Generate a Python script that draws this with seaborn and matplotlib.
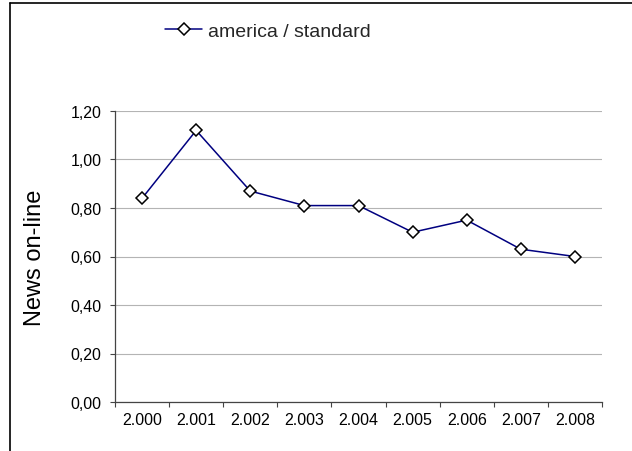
import numpy as np
import pandas as pd
import matplotlib
matplotlib.use("Agg")
import matplotlib.pyplot as plt
from matplotlib.lines import Line2D
from matplotlib.ticker import FixedLocator, FuncFormatter, MultipleLocator
import seaborn as sns

years = ["2.000", "2.001", "2.002", "2.003", "2.004", "2.005", "2.006", "2.007", "2.008"]
values = [0.84, 1.12, 0.87, 0.81, 0.81, 0.70, 0.75, 0.63, 0.60]
series_name = "america / standard"
y_label = "News on-line"

sns.set_theme(style="white")
plt.rcParams['font.family'] = ['Liberation Sans', 'DejaVu Sans']

df = pd.DataFrame({"pos": np.arange(len(years)), "value": values, "series": series_name})

fig = plt.figure(figsize=(6.32, 4.52), dpi=100)
fig.patch.set_facecolor("white")
ax = fig.add_axes([115/632, 1-403/452, (602-115)/632, (403-112)/452])

sns.lineplot(data=df, x="pos", y="value", ax=ax, color="#000080", linewidth=1.1,
             marker="D", markersize=6.5, markerfacecolor="white",
             markeredgecolor="black", markeredgewidth=1.1, label=series_name,
             zorder=3)

ax.set_xlim(-0.5, len(years) - 0.5)
ax.set_ylim(0, 1.2)
ax.yaxis.set_major_locator(MultipleLocator(0.2))
ax.yaxis.set_major_formatter(FuncFormatter(lambda v, p: f"{v:.2f}".replace(".", ",")))

# x: tick marks at category boundaries, labels at centers
ax.xaxis.set_major_locator(FixedLocator(np.arange(-0.5, len(years), 1.0)))
ax.set_xticklabels([])
ax.set_xticks(np.arange(len(years)), labels=years, minor=True)
ax.tick_params(axis="x", which="major", direction="out", length=3.6, width=0.8,
               color="#444444", bottom=True)
ax.tick_params(axis="x", which="minor", length=0, pad=7, labelsize=11.5, labelcolor="black")
ax.tick_params(axis="y", which="major", direction="out", length=3.6, width=0.8,
               color="#444444", left=True, pad=6, labelsize=11.5, labelcolor="black")

ax.grid(axis="y", color="#b4b4b4", linewidth=0.8, zorder=0)
ax.grid(axis="x", visible=False)
ax.set_axisbelow(True)
for s in ["top", "right"]:
    ax.spines[s].set_visible(False)
for s in ["left", "bottom"]:
    ax.spines[s].set_color("#444444")
    ax.spines[s].set_linewidth(0.9)

ax.set_xlabel("")
ax.set_ylabel(y_label, fontsize=17, color="black")
ax.yaxis.set_label_coords(-0.142, 0.5)

leg = ax.legend(loc="center", bbox_to_anchor=(268/632, 1-32/452),
                bbox_transform=fig.transFigure, frameon=False, fontsize=14,
                handlelength=1.9, handletextpad=0.3)

# partial chart-area border (left and top edges)
fig.add_artist(Line2D([10/632, 10/632], [0, 1-4/452], transform=fig.transFigure,
                      color="black", linewidth=1.2))
fig.add_artist(Line2D([10/632, 1], [1-4/452, 1-4/452], transform=fig.transFigure,
                      color="black", linewidth=1.2))

fig.savefig("out.png", dpi=100, facecolor="white")
